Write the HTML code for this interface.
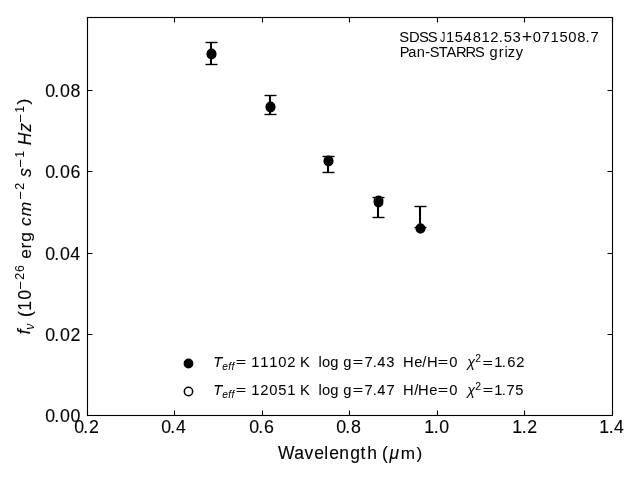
<!DOCTYPE html>
<html lang="en">
<head>
<meta charset="utf-8">
<title>SDSS J154812.53+071508.7 Pan-STARRS grizy photometry</title>
<style>
html,body{margin:0;padding:0;background:#fff;}
body{width:640px;height:480px;overflow:hidden;font-family:"Liberation Sans",sans-serif;}
svg{display:block;will-change:transform;}
text{white-space:pre;}
</style>
</head>
<body>
<svg xml:space="preserve" width="640" height="480" viewBox="0 0 640 480">
<rect x="0" y="0" width="640" height="480" fill="#fff"/>
<g id="data" stroke="#000" fill="none">
<line x1="211" y1="42.5" x2="211" y2="64.5" stroke-width="2.08"/>
<line x1="205.5" y1="42.5" x2="217.5" y2="42.5" stroke-width="1.39"/>
<line x1="205.5" y1="64.5" x2="217.5" y2="64.5" stroke-width="1.39"/>
<line x1="270" y1="95.5" x2="270" y2="114.5" stroke-width="2.08"/>
<line x1="264.5" y1="95.5" x2="276.5" y2="95.5" stroke-width="1.39"/>
<line x1="264.5" y1="114.5" x2="276.5" y2="114.5" stroke-width="1.39"/>
<line x1="328" y1="156.5" x2="328" y2="172.5" stroke-width="2.08"/>
<line x1="322.5" y1="156.5" x2="334.5" y2="156.5" stroke-width="1.39"/>
<line x1="322.5" y1="172.5" x2="334.5" y2="172.5" stroke-width="1.39"/>
<line x1="378" y1="197.5" x2="378" y2="217.5" stroke-width="2.08"/>
<line x1="372.5" y1="197.5" x2="384.5" y2="197.5" stroke-width="1.39"/>
<line x1="372.5" y1="217.5" x2="384.5" y2="217.5" stroke-width="1.39"/>
<line x1="420" y1="206.5" x2="420" y2="227.5" stroke-width="2.08"/>
<line x1="414.5" y1="206.5" x2="426.5" y2="206.5" stroke-width="1.39"/>
<line x1="414.5" y1="227.5" x2="426.5" y2="227.5" stroke-width="1.39"/>
<circle cx="211.5" cy="54.5" r="4.17" fill="#000" stroke-width="1.5"/>
<circle cx="270.5" cy="107.5" r="4.17" fill="#000" stroke-width="1.5"/>
<circle cx="328.5" cy="161.5" r="4.17" fill="#000" stroke-width="1.5"/>
<circle cx="378.5" cy="202.5" r="4.17" fill="#000" stroke-width="1.5"/>
<circle cx="420.5" cy="228.5" r="4.17" fill="#000" stroke-width="1.5"/>
<circle cx="211.5" cy="53.5" r="4.17" stroke-width="1.5"/>
<circle cx="270.5" cy="106.5" r="4.17" stroke-width="1.5"/>
<circle cx="328.5" cy="160.5" r="4.17" stroke-width="1.5"/>
<circle cx="378.5" cy="200.5" r="4.17" stroke-width="1.5"/>
<circle cx="420.5" cy="228.5" r="4.17" stroke-width="1.5"/>
<circle cx="188.5" cy="363.5" r="4.17" fill="#000" stroke-width="1.5"/>
<circle cx="188.5" cy="391.5" r="4.17" fill="none" stroke-width="1.5"/>
</g>
<g id="axes" stroke="#000" stroke-width="1.11" fill="none">
<path d="M87.5 415.5v-5M87.5 17.5v5M174.5 415.5v-5M174.5 17.5v5M262.5 415.5v-5M262.5 17.5v5M349.5 415.5v-5M349.5 17.5v5M437.5 415.5v-5M437.5 17.5v5M524.5 415.5v-5M524.5 17.5v5M612.5 415.5v-5M612.5 17.5v5M87.5 415.5h5M612.5 415.5h-5M87.5 334.5h5M612.5 334.5h-5M87.5 253.5h5M612.5 253.5h-5M87.5 171.5h5M612.5 171.5h-5M87.5 90.5h5M612.5 90.5h-5"/>
<rect x="87.5" y="17.5" width="525" height="398"/>
</g>
<g id="labels" opacity="0.999" fill="#000" font-family="'Liberation Sans', sans-serif" stroke="#000" stroke-width="0">
<text font-size="14.79" y="42" x="399.27 409.03 418.93 427.65">SDSS</text>
<text transform="matrix(0.720 0 0 1.000 123.88 0.00)" font-size="14.79" y="42" x="439.18">J</text>
<text font-size="14.79" y="42" x="445.91 454.86 463.61 472.63 481.56 490.34 498.64 503.73 512.38">154812.53</text>
<text transform="matrix(1.210 0 0 1.203 -110.46 -7.62)" font-size="14.79" y="42.42" x="522.42">+</text>
<text font-size="14.79" y="42" x="532.86 541.82 550.46 559.47 568.19 577.19 585.54 590.56">071508.7</text>
<text font-size="14.64" y="57" x="399.69 408.14 416.77 425.3 429.68 438.87 446.46 455.9 465.47 475.11 484.88 489.38 498.67 504.41 507.81 515.7">Pan-STARRS grizy</text>
<text font-size="14.72" font-style="italic" stroke-width="0.05" y="367" x="213.27">T</text>
<text font-size="10.19" font-style="italic" stroke-width="0.05" y="370" x="222.16 228.32 231.46">eff</text>
<text transform="matrix(1.216 0 0 0.826 -52.02 62.90)" font-size="14.72" stroke-width="0.05" y="367.34" x="236.58">=</text>
<text font-size="14.72" stroke-width="0.05" y="367" x="251.32 260.32 269.32 278.17 287.25 295.43 299.95 309.76 313.85 318.38 322.08 330.35 338.53 343.34">11102 K  log g</text>
<text transform="matrix(1.216 0 0 0.826 -77.28 62.90)" font-size="14.72" stroke-width="0.05" y="367.34" x="353.56">=</text>
<text font-size="14.72" stroke-width="0.05" y="367" x="364.4 372.87 377.21 386.34 394.53 398.62 402.89 414.2 422.33 426.89">7.43  He/H</text>
<text transform="matrix(1.216 0 0 0.826 -95.63 62.90)" font-size="14.72" stroke-width="0.05" y="367.34" x="438.56">=</text>
<text font-size="14.72" stroke-width="0.05" y="367" x="449.17">0</text>
<text font-size="14.31" font-style="italic" stroke-width="0.05" y="367" x="467.3">χ</text>
<text font-size="10.33" stroke-width="0.05" y="362" x="475.23">2</text>
<text transform="matrix(1.212 0 0 0.824 -103.50 63.83)" font-size="14.76" stroke-width="0.05" y="367.36" x="483.55">=</text>
<text font-size="14.76" stroke-width="0.05" y="367" x="494.31 501.87 507.3 516.24">1.62</text>
<text font-size="14.72" font-style="italic" stroke-width="0.05" y="395" x="213.27">T</text>
<text font-size="10.19" font-style="italic" stroke-width="0.05" y="398" x="222.16 228.32 231.46">eff</text>
<text transform="matrix(1.216 0 0 0.826 -52.02 67.76)" font-size="14.72" stroke-width="0.05" y="395.34" x="236.58">=</text>
<text font-size="14.72" stroke-width="0.05" y="395" x="251.32 260.25 269.17 278.36 287.32 295.51 299.95 309.76 313.85 318.38 322.08 330.35 338.53 343.34">12051 K  log g</text>
<text transform="matrix(1.216 0 0 0.826 -77.28 67.76)" font-size="14.72" stroke-width="0.05" y="395.34" x="353.56">=</text>
<text font-size="14.72" stroke-width="0.05" y="395" x="364.4 372.87 377.21 386.4 394.58 398.67 402.89 414.24 417.88 429.19">7.47  H/He</text>
<text transform="matrix(1.216 0 0 0.826 -95.63 67.76)" font-size="14.72" stroke-width="0.05" y="395.34" x="438.56">=</text>
<text font-size="14.72" stroke-width="0.05" y="395" x="449.17">0</text>
<text font-size="14.31" font-style="italic" stroke-width="0.05" y="395" x="467.3">χ</text>
<text font-size="10.33" stroke-width="0.05" y="390" x="475.23">2</text>
<text transform="matrix(1.216 0 0 0.826 -105.35 67.76)" font-size="14.72" stroke-width="0.05" y="395.34" x="483.56">=</text>
<text font-size="14.72" stroke-width="0.05" y="395" x="494.32 501.87 506.4 515.36">1.75</text>
<text font-size="17.47" stroke-width="0.12" y="459" x="277.9 294.15 304.52 314.29 324.37 329.29 339.24 350.29 360.55 367.17 376.88 382.06">Wavelength (</text>
<text font-size="17.47" font-style="italic" stroke-width="0.12" y="459" x="389.39">μ</text>
<text font-size="17.17" stroke-width="0.12" y="459" x="400.79 416.54">m)</text>
<text font-size="17.76" stroke-width="0.12" y="433" x="74.3 83.15 89.11">0.2</text>
<text font-size="17.73" stroke-width="0.12" y="433" x="161.31 170.16 175.95">0.4</text>
<text font-size="17.8" stroke-width="0.12" y="433" x="249.29 258.15 264.07">0.6</text>
<text font-size="17.8" stroke-width="0.12" y="433" x="336.29 345.15 351.09">0.8</text>
<text font-size="17.73" stroke-width="0.12" y="433" x="424.33 433.77 439.23">1.0</text>
<text font-size="17.69" stroke-width="0.12" y="433" x="512.34 521.78 527.22">1.2</text>
<text font-size="17.66" stroke-width="0.12" y="433" x="599.35 608.78 614.06">1.4</text>
<g transform="translate(0 480) rotate(-90)">
<text font-size="17.48" font-style="italic" stroke-width="0.12" y="30.33" x="145.74">f</text>
<text font-size="12.08" font-style="italic" y="33.69" x="150.31">ν</text>
<text font-size="17.66" stroke-width="0.12" y="30.58" x="163.02 169.35 180.33">(10</text>
<text transform="matrix(1.209 0 0 1.093 -40.78 -1.90)" font-size="12.43" y="24.63" x="191.36">−</text>
<text font-size="12.43" y="23.81" x="200.22 208.12">26</text>
<text font-size="17.35" stroke-width="0.12" y="30.58" x="221.32 231.51 238.33">erg</text>
<text font-size="17.42" font-style="italic" stroke-width="0.12" y="30.64" x="254.02 263.75">cm</text>
<text transform="matrix(1.212 0 0 1.095 -60.46 -1.96)" font-size="12.4" y="24.62" x="281.36">−</text>
<text font-size="12.4" y="23.83" x="290.23">2</text>
<text font-size="17.52" font-style="italic" stroke-width="0.12" y="30.61" x="302.95">s</text>
<text transform="matrix(1.216 0 0 1.099 -68.45 -2.03)" font-size="12.36" y="24.61" x="313.38">−</text>
<text font-size="12.36" y="23.75" x="322.28">1</text>
<text font-size="17.46" font-style="italic" stroke-width="0.12" y="30.56" x="334.75 348.21">Hz</text>
<text transform="matrix(1.216 0 0 1.099 -78.17 -2.03)" font-size="12.36" y="24.61" x="358.38">−</text>
<text font-size="12.36" y="23.75" x="367.28">1</text>
<text font-size="17.17" stroke-width="0.12" y="29.44" x="375.54">)</text>
</g>
<text font-size="17.8" stroke-width="0.12" y="422" x="45.29 54.15 60.11 70.48">0.00</text>
<text font-size="17.8" stroke-width="0.12" y="341" x="45.29 54.15 60.11 70.45">0.02</text>
<text font-size="17.8" stroke-width="0.12" y="260" x="45.29 54.15 60.11 70.27">0.04</text>
<text font-size="17.8" stroke-width="0.12" y="178" x="45.29 54.15 60.11 70.44">0.06</text>
<text font-size="17.8" stroke-width="0.12" y="97" x="45.29 54.15 60.11 70.46">0.08</text>
</g>
</svg>
</body>
</html>
